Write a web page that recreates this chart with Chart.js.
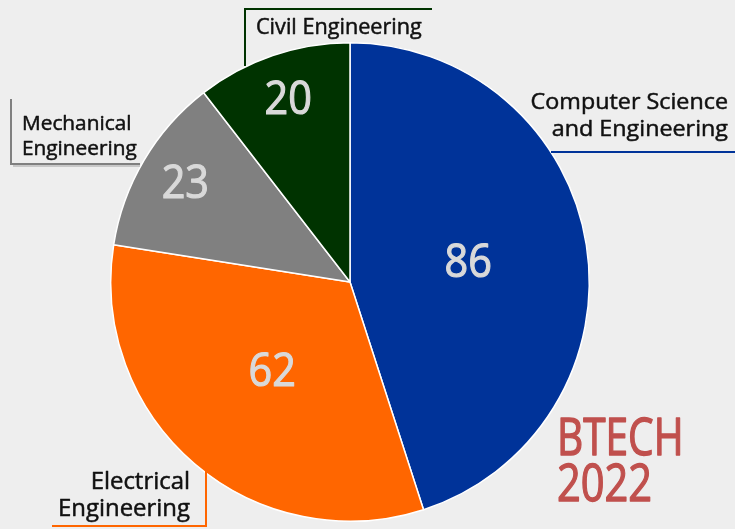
<!DOCTYPE html>
<html lang="en">
<head>
    <meta charset="UTF-8">
    <title>BTECH 2022</title>
    <script src="https://cdn.jsdelivr.net/npm/chart.js@4.4.0/dist/chart.umd.min.js"></script>
    <style>
        body { margin: 0; background: #eeeeee; }
        #wrap { width: 735px; height: 529px; }
    </style>
</head>
<body>
    <div id="wrap"><canvas id="myChart" width="735" height="529"></canvas></div>

    <script>
        const branches = ['Computer Science and Engineering', 'Electrical Engineering', 'Mechanical Engineering', 'Civil Engineering'];
        const students = [86, 62, 23, 20];
        const colors = ['#003399', '#ff6600', '#808080', '#003300'];
        // how far out (fraction of radius) each number sits
        const labelRadius = [0.5, 0.5, 0.8, 0.8];

        const FONT = '"Open Sans", sans-serif';

        function narrowText(ctx, text, x, y, size, color, align, sx, heavy) {
            ctx.save();
            ctx.font = size + 'px ' + FONT;
            ctx.fillStyle = color;
            ctx.strokeStyle = color;
            ctx.lineWidth = heavy;
            ctx.lineJoin = 'round';
            ctx.textBaseline = 'alphabetic';
            const w = ctx.measureText(text).width * sx;
            let left = x;
            if (align === 'center') left = x - w / 2;
            if (align === 'right') left = x - w;
            ctx.translate(left, y);
            ctx.scale(sx, 1);
            ctx.textAlign = 'left';
            ctx.fillText(text, 0, 0);
            if (heavy > 0) ctx.strokeText(text, 0, 0);
            ctx.restore();
        }

        function line(ctx, pts, color) {
            ctx.save();
            ctx.strokeStyle = color;
            ctx.lineWidth = 2;
            ctx.beginPath();
            ctx.moveTo(pts[0][0], pts[0][1]);
            for (let i = 1; i < pts.length; i++) ctx.lineTo(pts[i][0], pts[i][1]);
            ctx.stroke();
            ctx.restore();
        }

        const labelsPlugin = {
            id: 'labelsPlugin',
            afterDatasetsDraw(chart) {
                const ctx = chart.ctx;
                const arcs = chart.getDatasetMeta(0).data;
                arcs.forEach((arc, i) => {
                    const mid = (arc.startAngle + arc.endAngle) / 2;
                    const r = arc.outerRadius * labelRadius[i];
                    const x = arc.x + Math.cos(mid) * r;
                    const y = arc.y + Math.sin(mid) * r;
                    narrowText(ctx, String(students[i]), x, y + 13.5, 46, '#d9d9d9', 'center', 0.9, 1.2);
                });

                // callouts
                line(ctx, [[245, 66], [245, 9], [432, 9]], colors[3]);
                narrowText(ctx, 'Civil Engineering', 256, 34, 21, '#111', 'left', 1.03, 0.5);

                line(ctx, [[11, 99], [11, 164], [140, 164]], colors[2]);
                line(ctx, [[13, 166], [140, 166]], '#c8c8c8');
                narrowText(ctx, 'Mechanical', 22, 130, 20, '#111', 'left', 1.04, 0.5);
                narrowText(ctx, 'Engineering', 22, 155, 20, '#111', 'left', 1.04, 0.5);

                line(ctx, [[551, 152], [735, 152]], colors[0]);
                narrowText(ctx, 'Computer Science', 728, 109, 22, '#111', 'right', 1.06, 0.5);
                narrowText(ctx, 'and Engineering', 728, 136, 22, '#111', 'right', 1.06, 0.5);

                line(ctx, [[52, 526], [206, 526], [206, 468]], colors[1]);
                narrowText(ctx, 'Electrical', 190, 489, 23, '#111', 'right', 1.04, 0.5);
                narrowText(ctx, 'Engineering', 190, 516, 23, '#111', 'right', 1.04, 0.5);

                narrowText(ctx, 'BTECH', 557, 455, 52, '#c0504d', 'left', 0.78, 1.4);
                narrowText(ctx, '2022', 557, 501, 52, '#c0504d', 'left', 0.8, 1.4);
            }
        };

        const ctx = document.getElementById('myChart').getContext('2d');
        const myChart = new Chart(ctx, {
            type: 'pie',
            data: {
                labels: branches,
                datasets: [{
                    data: students,
                    backgroundColor: colors,
                    borderColor: '#ffffff',
                    borderWidth: 1.5
                }]
            },
            options: {
                responsive: false,
                animation: false,
                layout: { padding: { top: 42, bottom: 7, left: 110, right: 145 } },
                plugins: {
                    legend: { display: false },
                    tooltip: { enabled: false }
                }
            },
            plugins: [labelsPlugin]
        });
    </script>
</body>
</html>
